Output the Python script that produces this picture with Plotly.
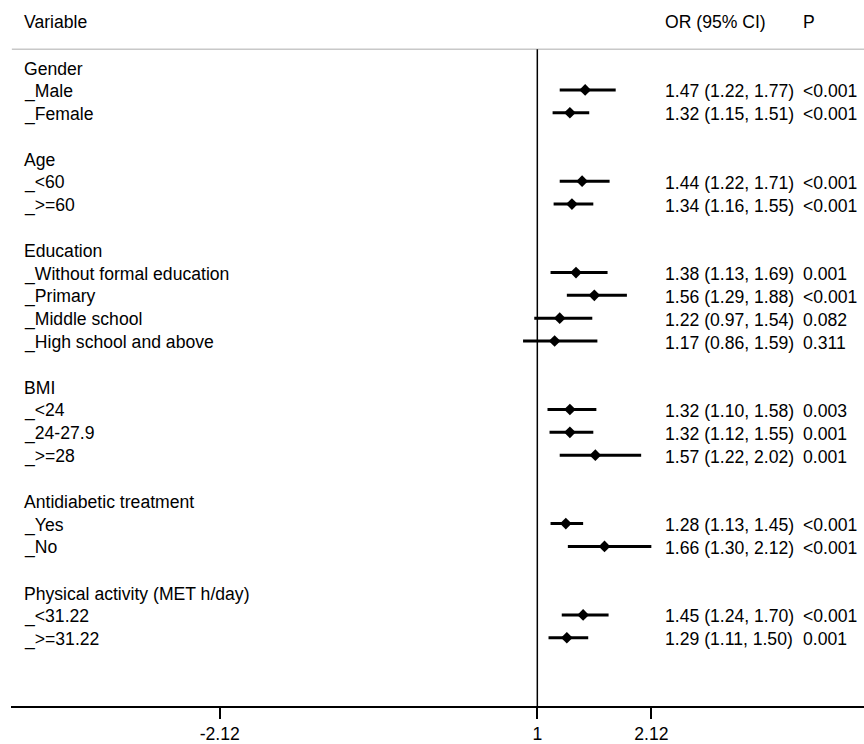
import plotly.graph_objects as go

# Rows of the forest plot, top to bottom ("" = spacer row)
labels = [
    "Gender", "_Male", "_Female", "",
    "Age", "_<60", "_>=60", "",
    "Education", "_Without formal education", "_Primary", "_Middle school", "_High school and above", "",
    "BMI", "_<24", "_24-27.9", "_>=28", "",
    "Antidiabetic treatment", "_Yes", "_No", "",
    "Physical activity (MET h/day)", "_<31.22", "_>=31.22",
]
odds_ratio = [
    None, 1.47, 1.32, None,
    None, 1.44, 1.34, None,
    None, 1.38, 1.56, 1.22, 1.17, None,
    None, 1.32, 1.32, 1.57, None,
    None, 1.28, 1.66, None,
    None, 1.45, 1.29,
]
ci_low = [
    None, 1.22, 1.15, None,
    None, 1.22, 1.16, None,
    None, 1.13, 1.29, 0.97, 0.86, None,
    None, 1.10, 1.12, 1.22, None,
    None, 1.13, 1.30, None,
    None, 1.24, 1.11,
]
ci_high = [
    None, 1.77, 1.51, None,
    None, 1.71, 1.55, None,
    None, 1.69, 1.88, 1.54, 1.59, None,
    None, 1.58, 1.55, 2.02, None,
    None, 1.45, 2.12, None,
    None, 1.70, 1.50,
]
p_values = [
    "", "<0.001", "<0.001", "",
    "", "<0.001", "<0.001", "",
    "", "0.001", "<0.001", "0.082", "0.311", "",
    "", "0.003", "0.001", "0.001", "",
    "", "<0.001", "<0.001", "",
    "", "<0.001", "0.001",
]
tick_values = [-2.12, 1, 2.12]
tick_labels = ["-2.12", "1", "2.12"]

FONT = "Liberation Sans, Arial, sans-serif"
TXT = 17.6
HEADER_ROW = -2.02
RULE_ROW = -0.786

rows = list(range(len(labels)))

# confidence interval segments
seg_x, seg_y = [], []
pt_x, pt_y = [], []
for r, o, lo, hi in zip(rows, odds_ratio, ci_low, ci_high):
    if o is None:
        continue
    seg_x += [lo, hi, None]
    seg_y += [r, r, None]
    pt_x.append(o)
    pt_y.append(r)

fig = go.Figure()
fig.add_trace(go.Scatter(
    x=seg_x, y=seg_y, mode="lines",
    line=dict(color="black", width=3), hoverinfo="skip", showlegend=False,
))
fig.add_trace(go.Scatter(
    x=pt_x, y=pt_y, mode="markers",
    marker=dict(symbol="diamond", size=9, color="black", line=dict(width=0)),
    showlegend=False,
))

# column positions in paper coordinates
X_LABEL = 0.0125
X_OR = 0.7645
X_P = 0.926

annotations = []


def add_text(x, y, text):
    annotations.append(dict(
        x=x, y=y, xref="paper", yref="y", text=text, showarrow=False,
        xanchor="left", yanchor="middle", yshift=-1.5,
        font=dict(family=FONT, size=TXT, color="black"),
    ))


add_text(X_LABEL, HEADER_ROW, "Variable")
add_text(X_OR, HEADER_ROW, "OR (95% CI)")
add_text(X_P, HEADER_ROW, "P")

for r, lab, o, lo, hi, p in zip(rows, labels, odds_ratio, ci_low, ci_high, p_values):
    if lab:
        add_text(X_LABEL, r, lab)
    if o is not None:
        add_text(X_OR, r, f"{o:.2f} ({lo:.2f}, {hi:.2f})")
        add_text(X_P, r, p)

shapes = [
    # rule under the header
    dict(type="line", xref="paper", yref="y", x0=0.001, x1=1, y0=RULE_ROW, y1=RULE_ROW,
         line=dict(color="#c8c8c8", width=1.5)),
    # line of no effect
    dict(type="line", xref="x", yref="paper", x0=1, x1=1, y0=0,
         y1=(RULE_ROW - 27.99) / (-2.939 - 27.99),
         line=dict(color="black", width=1.5)),
]

fig.update_layout(
    width=864, height=744,
    margin=dict(l=11, r=0, t=0, b=36),
    paper_bgcolor="white", plot_bgcolor="white",
    annotations=annotations, shapes=shapes,
    xaxis=dict(
        range=[-4.170, 4.209], tickvals=tick_values, ticktext=tick_labels,
        showline=True, linecolor="black", linewidth=1.5,
        ticks="outside", ticklen=11, tickwidth=1.5, tickcolor="black",
        showgrid=False, zeroline=False,
        tickfont=dict(family=FONT, size=TXT, color="black"),
    ),
    yaxis=dict(
        range=[27.99, -2.939], visible=False, showgrid=False, zeroline=False,
    ),
)

fig.write_html("out.html")
